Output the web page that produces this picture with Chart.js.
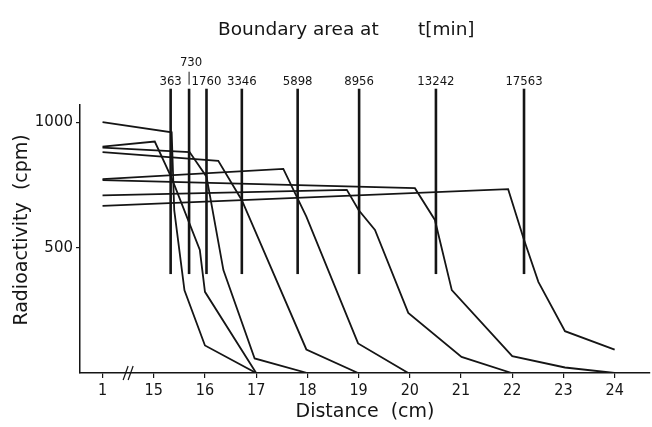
<!DOCTYPE html>
<html>
<head>
<meta charset="utf-8">
<script src="https://cdn.jsdelivr.net/npm/chart.js@4.4.1/dist/chart.umd.min.js"></script>
<style>
  html, body { margin: 0; padding: 0; background: #fff; }
  #wrap { width: 652px; height: 427px; }
</style>
</head>
<body>
<div id="wrap"><canvas id="chart" width="652" height="427"></canvas></div>
<script>
// Határfelület helyzete és ideje (min)
const times = [363, 730, 1760, 3346, 5898, 8956, 13242, 17563];
const boundaryX = [15.33, 15.69, 16.03, 16.72, 17.81, 19.01, 20.51, 22.23];
const boundaryRange = [395, 1135];

// Tengely-feliratok
const xTicks = [1, 15, 16, 17, 18, 19, 20, 21, 22, 23, 24];
const yTicks = [500, 1000];

// Görbék: távolság (cm) és radioaktivitás (cpm)
const dist363 = [1, 15.35, 15.4, 15.6, 16.0, 17];
const cpm363 = [1002, 961, 650, 330, 110, 0];
const dist730 = [1, 15.02, 15.35, 15.9, 16.0, 17];
const cpm730 = [904, 924, 778, 491, 324, 0];
const dist1760 = [1, 15.7, 16.03, 16.36, 16.97, 18];
const cpm1760 = [900, 882, 784, 411, 58, 0];
const dist3346 = [1, 16.26, 16.72, 17.98, 18.99];
const cpm3346 = [882, 847, 690, 94, 0];
const dist5898 = [1, 17.53, 17.98, 18.99, 19.97];
const cpm5898 = [774, 815, 624, 118, 0];
const dist8956 = [1, 18.77, 19.0, 19.32, 19.97, 21.01, 21.99];
const cpm8956 = [709, 731, 651, 571, 240, 64, 0];
const dist13242 = [1, 20.1, 20.49, 20.82, 22.0, 23.03, 24.0];
const cpm13242 = [770, 738, 611, 331, 67, 22, 0];
const dist17563 = [1, 21.92, 22.22, 22.51, 23.03, 24.0];
const cpm17563 = [667, 734, 538, 364, 167, 93];

const curves = [
  [dist363, cpm363], [dist730, cpm730], [dist1760, cpm1760], [dist3346, cpm3346],
  [dist5898, cpm5898], [dist8956, cpm8956], [dist13242, cpm13242], [dist17563, cpm17563]
];

const ink = '#151515';

// Az "1" a tengelyen a 15 elé kerül (tengelyszakadás)
function pos(d) { return d === 1 ? 14 : d; }

const datasets = [];
curves.forEach(([dist, cpm]) => {
  datasets.push({
    data: dist.map((d, i) => ({ x: pos(d), y: cpm[i] })),
    borderColor: ink, borderWidth: 1.8, pointRadius: 0, tension: 0, fill: false
  });
});
boundaryX.forEach(bx => {
  datasets.push({
    data: [{ x: bx, y: boundaryRange[0] }, { x: bx, y: boundaryRange[1] }],
    borderColor: ink, borderWidth: 2.6, pointRadius: 0, clip: false, fill: false
  });
});

const labelFont = "'DejaVu Sans Condensed', 'Liberation Sans Narrow', 'DejaVu Sans', sans-serif";
const textFont = "'DejaVu Sans', sans-serif";

// Feliratok: cím, idők, tengelyszakadás
const extras = {
  id: 'extras',
  afterDraw(chart) {
    const { ctx, scales: { x, y }, chartArea } = chart;
    ctx.save();
    ctx.fillStyle = ink;
    ctx.strokeStyle = ink;

    ctx.font = '18.5px ' + textFont;
    ctx.textBaseline = 'alphabetic';
    ctx.textAlign = 'left';
    ctx.fillText('Boundary area at', 218, 35);
    ctx.fillText('t[min]', 418, 35);

    ctx.font = '13px ' + labelFont;
    ctx.textAlign = 'center';
    const top = y.getPixelForValue(boundaryRange[1]);
    times.forEach((t, i) => {
      const px = x.getPixelForValue(boundaryX[i]);
      if (t === 730) {
        ctx.fillText(String(t), px + 2, top - 23);
        ctx.lineWidth = 1;
        ctx.beginPath();
        ctx.moveTo(px, top - 17);
        ctx.lineTo(px, top - 4);
        ctx.stroke();
      } else {
        ctx.fillText(String(t), px, top - 4);
      }
    });

    // tengelyszakadás jele
    const bx = x.getPixelForValue(14.5);
    const by = chartArea.bottom;
    ctx.lineWidth = 1.2;
    [-2.5, 2.5].forEach(off => {
      ctx.beginPath();
      ctx.moveTo(bx + off - 2.5, by + 7);
      ctx.lineTo(bx + off + 2.5, by - 7);
      ctx.stroke();
    });
    ctx.restore();
  }
};

new Chart(document.getElementById('chart'), {
  type: 'line',
  data: { datasets },
  plugins: [extras],
  options: {
    responsive: false,
    animation: false,
    layout: { padding: { top: 105, right: 2, left: 0, bottom: 0 } },
    plugins: { legend: { display: false }, tooltip: { enabled: false } },
    scales: {
      x: {
        type: 'linear',
        min: 13.56,
        max: 24.69,
        afterBuildTicks: s => { s.ticks = xTicks.map(d => ({ value: pos(d) })); },
        afterFit: s => { s.height = 54; },
        ticks: {
          callback: v => (v === 14 ? '1' : String(v)),
          color: ink, padding: 3, maxRotation: 0, autoSkip: false,
          font: { family: labelFont, size: 16 }
        },
        grid: { drawOnChartArea: false, drawTicks: true, tickLength: 5, color: ink, lineWidth: 1.2 },
        border: { color: ink, width: 1.5 },
        title: {
          display: true, text: 'Distance  (cm)', color: ink,
          font: { family: textFont, size: 19 },
          padding: { top: 0, bottom: 4 }
        }
      },
      y: {
        type: 'linear',
        min: 0,
        max: 1070,
        afterBuildTicks: s => { s.ticks = yTicks.map(v => ({ value: v })); },
        afterFit: s => { s.width = 80; },
        ticks: {
          callback: v => String(v),
          color: ink, padding: 3,
          font: { family: textFont, size: 15 }
        },
        grid: { drawOnChartArea: false, drawTicks: true, tickLength: 4, color: ink, lineWidth: 1.2 },
        border: { color: ink, width: 1.5 },
        title: {
          display: true, text: '   Radioactivity  (cpm)', color: ink,
          font: { family: textFont, size: 19 },
          padding: { top: 11, bottom: 0 }
        }
      }
    }
  }
});
</script>
</body>
</html>
